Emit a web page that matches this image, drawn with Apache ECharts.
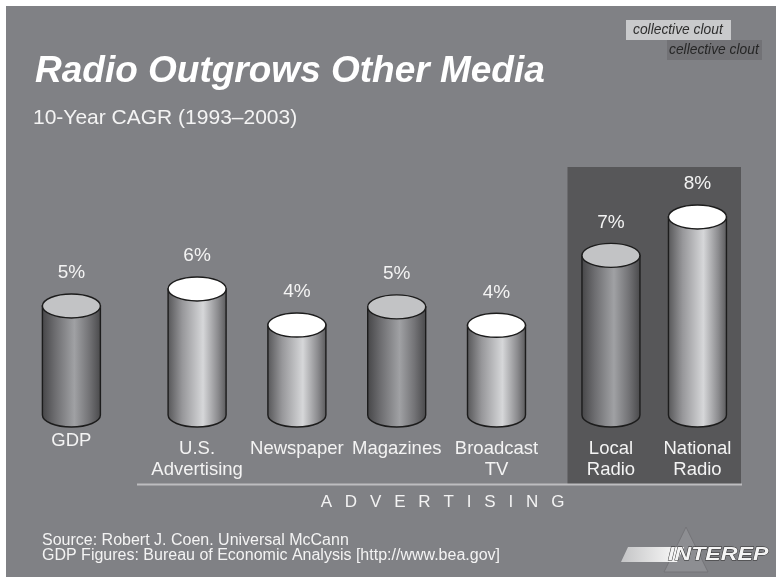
<!DOCTYPE html>
<html><head><meta charset="utf-8">
<script src="https://cdn.jsdelivr.net/npm/echarts@6/dist/echarts.min.js"></script>
<style>html,body{margin:0;padding:0;background:#fff}#c{width:776px;height:577px}</style>
</head><body><div id="c"></div>
<script>
// ---- data ----
const gdpCategory = ['GDP'];
const gdpValues = [4.74];
const gdpLabels = ['5%'];
const adCategories = ['U.S.\nAdvertising', 'Newspaper', 'Magazines', 'Broadcast\nTV'];
const adValues = [5.48, 3.91, 4.70, 3.90];
const adLabels = ['6%', '4%', '5%', '4%'];
const radioCategories = ['Local\nRadio', 'National\nRadio'];
const radioValues = [6.94, 8.61];
const radioLabels = ['7%', '8%'];
const titleText = 'Radio Outgrows Other Media';
const subtitleText = '10-Year CAGR (1993\u20132003)';
const groupText = 'ADVERTISING';
const sourceLines = ['Source: Robert J. Coen. Universal McCann', 'GDP Figures: Bureau of Economic Analysis [http://www.bea.gov]'];

// ---- styles ----
const darkStyled = { 'GDP': true, 'Magazines': true, 'Local\nRadio': true };
const FONT = '"Liberation Sans", Arial, Helvetica, sans-serif';
const TXT = '#f3f3f3';

function bodyGradient(dark) {
  return new echarts.graphic.LinearGradient(0, 0, 1, 0, dark ? [
    { offset: 0, color: '#454547' }, { offset: 0.22, color: '#6c6c6f' },
    { offset: 0.55, color: '#a0a1a4' }, { offset: 0.8, color: '#737376' }, { offset: 1, color: '#48484a' }
  ] : [
    { offset: 0, color: '#555557' }, { offset: 0.25, color: '#97979a' },
    { offset: 0.6, color: '#d6d7d9' }, { offset: 0.85, color: '#8c8c8f' }, { offset: 1, color: '#58585a' }
  ]);
}

function makeRender(cats, labels) {
  return function (params, api) {
    const i = api.value(0), v = api.value(1);
    const base = api.coord([i, 0]);
    const top = api.coord([i, v]);
    const rx = 29, ry = 12;
    const cx = top[0];
    const dark = !!darkStyled[cats[i]];
    const d = 'M' + (cx - rx) + ',' + top[1] + ' L' + (cx - rx) + ',' + base[1] +
      ' A' + rx + ',' + ry + ' 0 0 0 ' + (cx + rx) + ',' + base[1] +
      ' L' + (cx + rx) + ',' + top[1] + ' Z';
    return {
      type: 'group', children: [
        { type: 'path', shape: { pathData: d }, style: { fill: bodyGradient(dark), stroke: '#1c1c1c', lineWidth: 1.4 } },
        { type: 'ellipse', shape: { cx: cx, cy: top[1], rx: rx, ry: ry }, style: { fill: dark ? '#c2c3c5' : '#ffffff', stroke: '#1c1c1c', lineWidth: 1.4 } },
        { type: 'text', x: cx, y: top[1] - ry - 21, style: { text: labels[i], fill: TXT, font: '19px ' + FONT, align: 'center', verticalAlign: 'middle' } }
      ]
    };
  };
}

const axisLabelBase = { color: TXT, fontSize: 18.5, lineHeight: 21, fontFamily: FONT, interval: 0 };
const groups = [
  { cats: gdpCategory, vals: gdpValues, labels: gdpLabels, left: 21.4, width: 100, margin: 15 },
  { cats: adCategories, vals: adValues, labels: adLabels, left: 147.2, width: 399.2, margin: 23 },
  { cats: radioCategories, vals: radioValues, labels: radioLabels, left: 567.7, width: 173, margin: 23 }
];

const chart = echarts.init(document.getElementById('c'), null, { renderer: 'canvas' });
chart.setOption({
  backgroundColor: '#ffffff',
  animation: false,
  grid: groups.map(g => ({ left: g.left, width: g.width, top: 185, bottom: 162, outerBoundsMode: 'none' })),
  xAxis: groups.map((g, k) => ({ type: 'category', gridIndex: k, data: g.cats, axisLine: { show: false }, axisTick: { show: false }, axisLabel: Object.assign({ margin: g.margin }, axisLabelBase) })),
  yAxis: groups.map((g, k) => ({ type: 'value', gridIndex: k, min: 0, max: 10, show: false })),
  series: groups.map((g, k) => ({ type: 'custom', xAxisIndex: k, yAxisIndex: k, renderItem: makeRender(g.cats, g.labels), data: g.vals.map((v, i) => [i, v]), encode: { x: 0, y: 1 }, z: 5 })),
  graphic: [
    { type: 'rect', z: -10, shape: { x: 6, y: 6, width: 770, height: 571 }, style: { fill: '#808185' } },
    { type: 'rect', z: -9, shape: { x: 567.5, y: 167, width: 173.5, height: 317 }, style: { fill: '#575759' } },
    { type: 'line', z: -8, shape: { x1: 137, y1: 484.5, x2: 742, y2: 484.5 }, style: { stroke: '#bdbdc0', lineWidth: 2 } },
    { type: 'text', z: 1, x: 35, y: 72, style: { text: titleText, fill: '#ffffff', font: 'italic bold 37px ' + FONT, verticalAlign: 'middle' } },
    { type: 'text', z: 1, x: 33, y: 118, style: { text: subtitleText, fill: TXT, font: '21px ' + FONT, verticalAlign: 'middle' } },
    { type: 'text', z: 1, x: 442.5, y: 502, style: { text: groupText.split('').join('  \u2009'), fill: TXT, font: '17px ' + FONT, align: 'center', verticalAlign: 'middle' } },
    { type: 'text', z: 1, x: 42, y: 541, style: { text: sourceLines[0], fill: TXT, font: '16px ' + FONT, verticalAlign: 'middle' } },
    { type: 'text', z: 1, x: 42, y: 556, style: { text: sourceLines[1], fill: TXT, font: '16px ' + FONT, verticalAlign: 'middle' } },
    { type: 'rect', z: 1, shape: { x: 626, y: 20, width: 105, height: 20 }, style: { fill: '#c9cacc' } },
    { type: 'text', z: 2, x: 633, y: 30, style: { text: 'collective clout', fill: '#2e2e2e', font: 'italic 13.8px ' + FONT, verticalAlign: 'middle' } },
    { type: 'rect', z: 1, shape: { x: 667, y: 40, width: 95, height: 20 }, style: { fill: '#727276' } },
    { type: 'text', z: 2, x: 669, y: 50, style: { text: 'cellective clout', fill: '#262626', font: 'italic 13.8px ' + FONT, verticalAlign: 'middle' } },
    // logo
    { type: 'polygon', z: 1, shape: { points: [[686, 527], [708, 572], [664, 572]] }, style: { fill: '#8d8e92', stroke: '#747478', lineWidth: 1 } },
    { type: 'polygon', z: 2, shape: { points: [[621, 562], [628, 547], [684, 547], [677, 562]] },
      style: { fill: new echarts.graphic.LinearGradient(0, 0, 1, 0, [{ offset: 0, color: 'rgba(240,240,240,0.6)' }, { offset: 0.7, color: '#ededed' }, { offset: 1, color: '#ffffff' }]) } },
    { type: 'text', z: 3, x: 668, y: 555, scaleX: 1.22, style: { text: 'INTEREP', fill: '#f4f4f4', stroke: '#2a2a2a', lineWidth: 0.8, font: 'italic bold 19px ' + FONT, verticalAlign: 'middle' } }
  ]
});
</script></body></html>
